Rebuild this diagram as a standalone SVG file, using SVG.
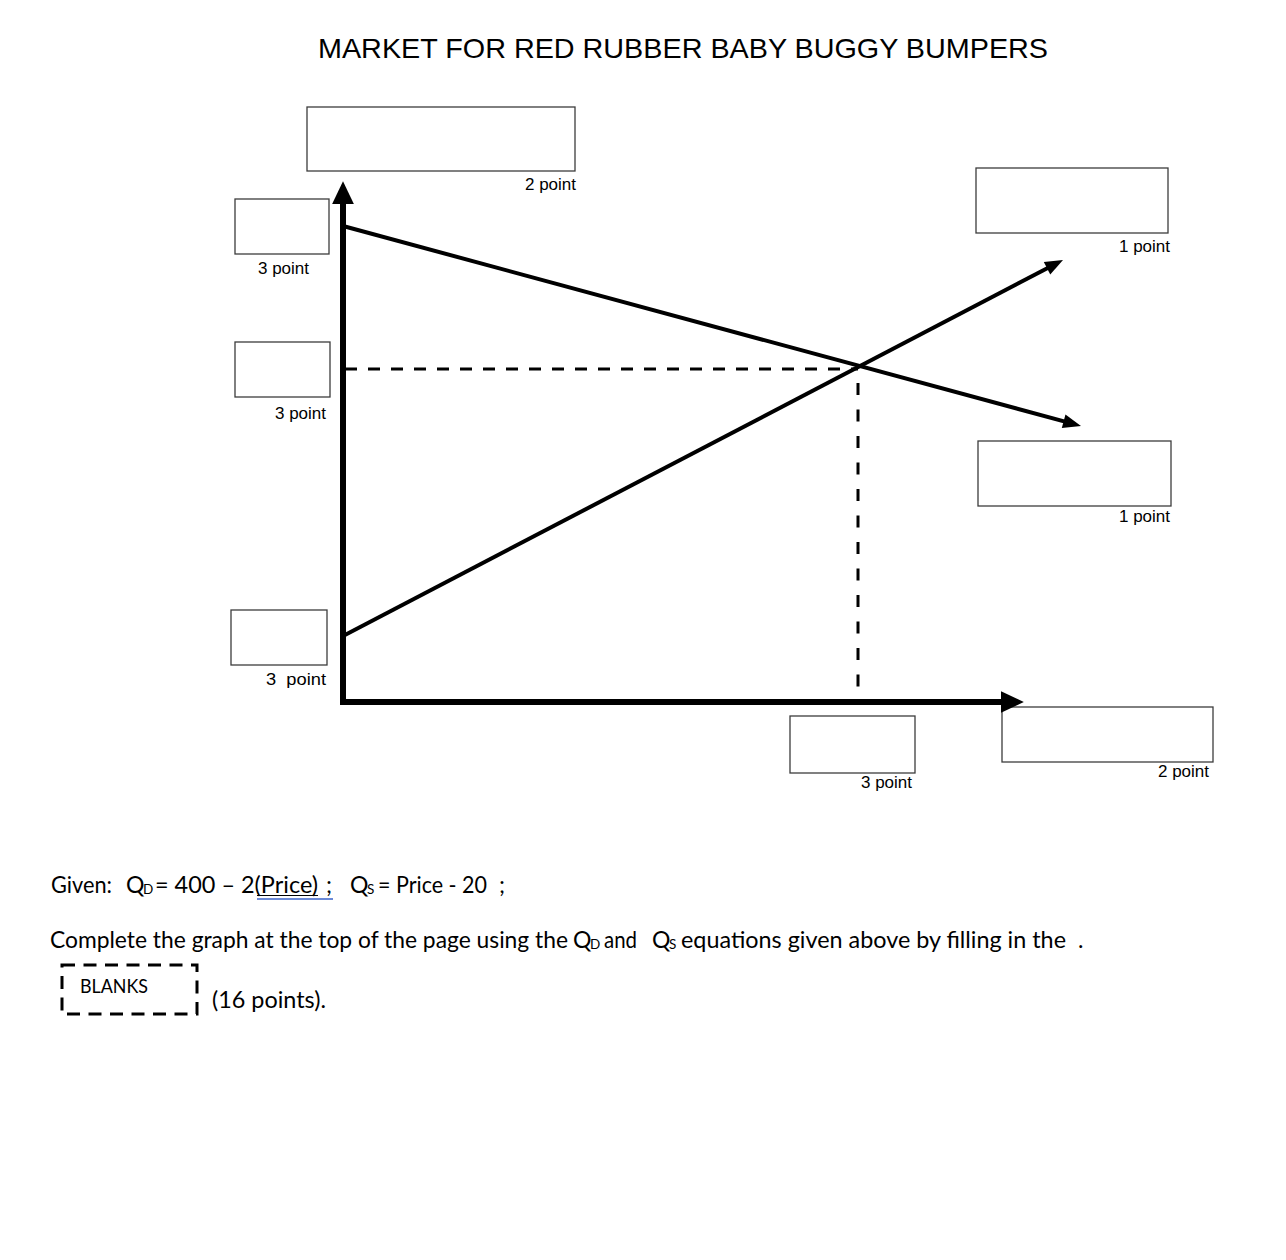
<svg xmlns="http://www.w3.org/2000/svg" width="1286" height="1260" viewBox="0 0 1286 1260">
<style>
.box{fill:#fff;stroke:#3c3c3c;stroke-width:1.3}
.lbl{font-family:"Liberation Sans",Arial,sans-serif;font-size:17px;fill:#000;text-anchor:end}
.title{font-family:"Liberation Sans",Arial,sans-serif;font-size:28.5px;fill:#000}
.body{font-family:Lato,"Open Sans",sans-serif;font-size:23px;fill:#000}
.sub{font-family:Lato,"Open Sans",sans-serif;font-size:13.5px;fill:#000}
.axis{stroke:#000;stroke-width:6;fill:none}
.curve{stroke:#000;stroke-width:4;fill:none}
.dash{stroke:#000;stroke-width:3;fill:none}
</style>
<defs>
<marker id="axisHead" markerUnits="userSpaceOnUse" markerWidth="24" markerHeight="24" viewBox="0 -11 22 22" refX="1" refY="0" orient="auto">
<path d="M0,-10 L21,0 L0,10 z" fill="#000"/>
</marker>
<marker id="lineHead" markerUnits="userSpaceOnUse" markerWidth="20" markerHeight="16" viewBox="0 -8 19 16" refX="10" refY="0" orient="auto">
<path d="M0,-7 L18,0 L0,7 z" fill="#000"/>
</marker>
</defs>
<rect width="1286" height="1260" fill="#fff"/>

<text class="title" x="318" y="58" textLength="730" lengthAdjust="spacingAndGlyphs">MARKET FOR RED RUBBER BABY BUGGY BUMPERS</text>

<g id="box-top">
<rect class="box" x="307" y="107" width="268" height="64"/>
<text class="lbl" x="576" y="190">2 point</text>
</g>
<g id="box-left1">
<rect class="box" x="235" y="199" width="94" height="55"/>
<text class="lbl" x="309" y="274">3 point</text>
</g>
<g id="box-left2">
<rect class="box" x="235" y="342" width="95" height="55"/>
<text class="lbl" x="326" y="419">3 point</text>
</g>
<g id="box-left3">
<rect class="box" x="231" y="610" width="96" height="55"/>
<text class="lbl" x="326" y="685" xml:space="preserve" textLength="60" lengthAdjust="spacingAndGlyphs">3  point</text>
</g>
<g id="box-right1">
<rect class="box" x="976" y="168" width="192" height="65"/>
<text class="lbl" x="1170" y="252">1 point</text>
</g>
<g id="box-right2">
<rect class="box" x="978" y="441" width="193" height="65"/>
<text class="lbl" x="1170" y="522">1 point</text>
</g>
<g id="box-bottom-mid">
<rect class="box" x="790" y="716" width="125" height="57"/>
<text class="lbl" x="912" y="788">3 point</text>
</g>
<g id="box-bottom-right">
<rect class="box" x="1002" y="707" width="211" height="55"/>
<text class="lbl" x="1209" y="777">2 point</text>
</g>

<g id="connectors">
<line class="dash" x1="345" y1="369" x2="858" y2="369" stroke-dasharray="12 11"/>
<line class="dash" x1="858" y1="383" x2="858" y2="700" stroke-dasharray="12 14.5"/>
<line class="curve" x1="343" y1="226" x2="1073.3" y2="423.9" marker-end="url(#lineHead)"/>
<line class="curve" x1="343" y1="636" x2="1055.9" y2="263.7" marker-end="url(#lineHead)"/>
<line class="axis" x1="343" y1="705" x2="343" y2="203" marker-end="url(#axisHead)"/>
<line class="axis" x1="340" y1="702" x2="1002" y2="702" marker-end="url(#axisHead)"/>
</g>

<g id="given">
<text class="body" x="51" y="893" textLength="61" lengthAdjust="spacingAndGlyphs">Given:</text>
<text class="body" x="126" y="893">Q</text>
<text class="sub" x="143" y="894">D</text>
<text class="body" x="155" y="893" textLength="163" lengthAdjust="spacingAndGlyphs">= 400 – 2(Price)</text>
<text class="body" x="326" y="893">;</text>
<text class="body" x="350" y="893">Q</text>
<text class="sub" x="367" y="894">S</text>
<text class="body" x="378" y="893" textLength="109" lengthAdjust="spacingAndGlyphs">= Price - 20</text>
<text class="body" x="499" y="893">;</text>
<line x1="257" y1="895.5" x2="318" y2="895.5" stroke="#000" stroke-width="1.2"/>
<line x1="257" y1="899" x2="333" y2="899" stroke="#3a62c9" stroke-width="1.6"/>
</g>

<g id="instruction">
<text class="body" x="50" y="948" textLength="518" lengthAdjust="spacingAndGlyphs">Complete the graph at the top of the page using the</text>
<text class="body" x="573" y="948">Q</text>
<text class="sub" x="590" y="949">D</text>
<text class="body" x="604" y="948" textLength="33" lengthAdjust="spacingAndGlyphs">and</text>
<text class="body" x="652" y="948">Q</text>
<text class="sub" x="669" y="949">S</text>
<text class="body" x="681" y="948" textLength="385" lengthAdjust="spacingAndGlyphs">equations given above by filling in the</text>
<text class="body" x="1078" y="948">.</text>
</g>

<g id="blanks">
<rect x="62" y="965" width="135" height="49" fill="none" stroke="#000" stroke-width="3" stroke-dasharray="13 8.5"/>
<text class="body" x="80" y="993" style="font-size:19.5px" textLength="68" lengthAdjust="spacingAndGlyphs">BLANKS</text>
<text class="body" x="212" y="1008" textLength="114" lengthAdjust="spacingAndGlyphs">(16 points).</text>
</g>
</svg>
